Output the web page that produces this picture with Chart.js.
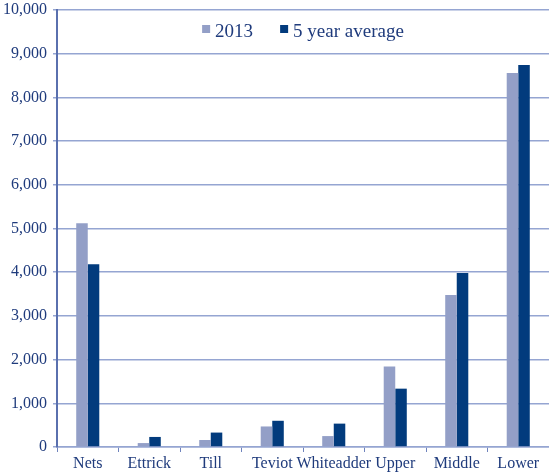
<!DOCTYPE html>
<html lang="en">
<head>
    <meta charset="UTF-8">
    <title>Catches by fishery</title>
    <script src="https://cdn.jsdelivr.net/npm/chart.js"></script>
    <style>
        body { margin: 0; background: #fff; }
        #wrap { width: 549px; height: 474px; }
    </style>
</head>
<body>
    <div id="wrap"><canvas id="catchChart" width="549" height="474"></canvas></div>
    <script>
        // Data
        const categories = ['Nets', 'Ettrick', 'Till', 'Teviot', 'Whiteadder', 'Upper', 'Middle', 'Lower'];
        const catch2013 = [5120, 90, 160, 470, 250, 1840, 3480, 8560];
        const fiveYearAvg = [4180, 230, 330, 600, 535, 1335, 3980, 8740];
        const yTicks = [0, 1000, 2000, 3000, 4000, 5000, 6000, 7000, 8000, 9000, 10000];

        const textColor = '#1f3b7c';
        const gridColor = '#95a5d2';
        const fontFamily = '"Liberation Serif", "Times New Roman", serif';

        Chart.defaults.font.family = fontFamily;
        Chart.defaults.color = textColor;

        // legend drawn inside the plot, centred near the top
        const innerLegend = {
            id: 'innerLegend',
            afterDraw(chart) {
                const c = chart.ctx;
                const area = chart.chartArea;
                const box = 8, gap = 5, itemGap = 27;
                c.save();
                c.font = '19px ' + fontFamily;
                c.textBaseline = 'alphabetic';
                const items = chart.data.datasets.map(ds => ({
                    text: ds.label,
                    color: ds.backgroundColor,
                    w: box + gap + c.measureText(ds.label).width
                }));
                const total = items.reduce((s, it) => s + it.w, 0) + itemGap * (items.length - 1);
                let x = (area.left + area.right) / 2 - total / 2;
                const baseline = area.top + 27;
                items.forEach(it => {
                    c.fillStyle = it.color;
                    c.fillRect(x, baseline - 12, box, box);
                    c.fillStyle = textColor;
                    c.fillText(it.text, x + box + gap, baseline);
                    x += it.w + itemGap;
                });
                c.restore();
            }
        };

        const ctx = document.getElementById('catchChart').getContext('2d');
        new Chart(ctx, {
            type: 'bar',
            data: {
                labels: categories,
                datasets: [
                    {
                        label: '2013',
                        data: catch2013,
                        backgroundColor: '#939fc7',
                        categoryPercentage: 0.375,
                        barPercentage: 1.0
                    },
                    {
                        label: '5 year average',
                        data: fiveYearAvg,
                        backgroundColor: '#023b7d',
                        categoryPercentage: 0.375,
                        barPercentage: 1.0
                    }
                ]
            },
            options: {
                responsive: false,
                animation: false,
                layout: { padding: { top: 10, right: 0, bottom: 0, left: 0 } },
                plugins: {
                    tooltip: { enabled: false },
                    legend: { display: false }
                },
                scales: {
                    x: {
                        offset: true,
                        grid: {
                            offset: true,
                            drawOnChartArea: false,
                            drawTicks: true,
                            tickLength: 5,
                            color: '#6f83bd'
                        },
                        border: { color: gridColor, width: 1.5 },
                        ticks: {
                            font: { size: 16 },
                            padding: 2,
                            color: textColor,
                            maxRotation: 0,
                            minRotation: 0,
                            autoSkip: false
                        },
                        afterFit: (scale) => { scale.height = 27; }
                    },
                    y: {
                        min: 0,
                        max: 10000,
                        afterBuildTicks: (scale) => { scale.ticks = yTicks.map(v => ({ value: v })); },
                        grid: {
                            color: gridColor,
                            lineWidth: 1.5,
                            tickLength: 4
                        },
                        border: { color: '#5a70ae', width: 2 },
                        ticks: {
                            font: { size: 16 },
                            padding: 6,
                            color: textColor,
                            callback: (v) => v.toLocaleString('en-US')
                        },
                        afterFit: (scale) => {
                            scale.width = 57;
                            scale.paddingTop = 0;
                            scale.paddingBottom = 0;
                        }
                    }
                }
            },
            plugins: [innerLegend]
        });
    </script>
</body>
</html>
